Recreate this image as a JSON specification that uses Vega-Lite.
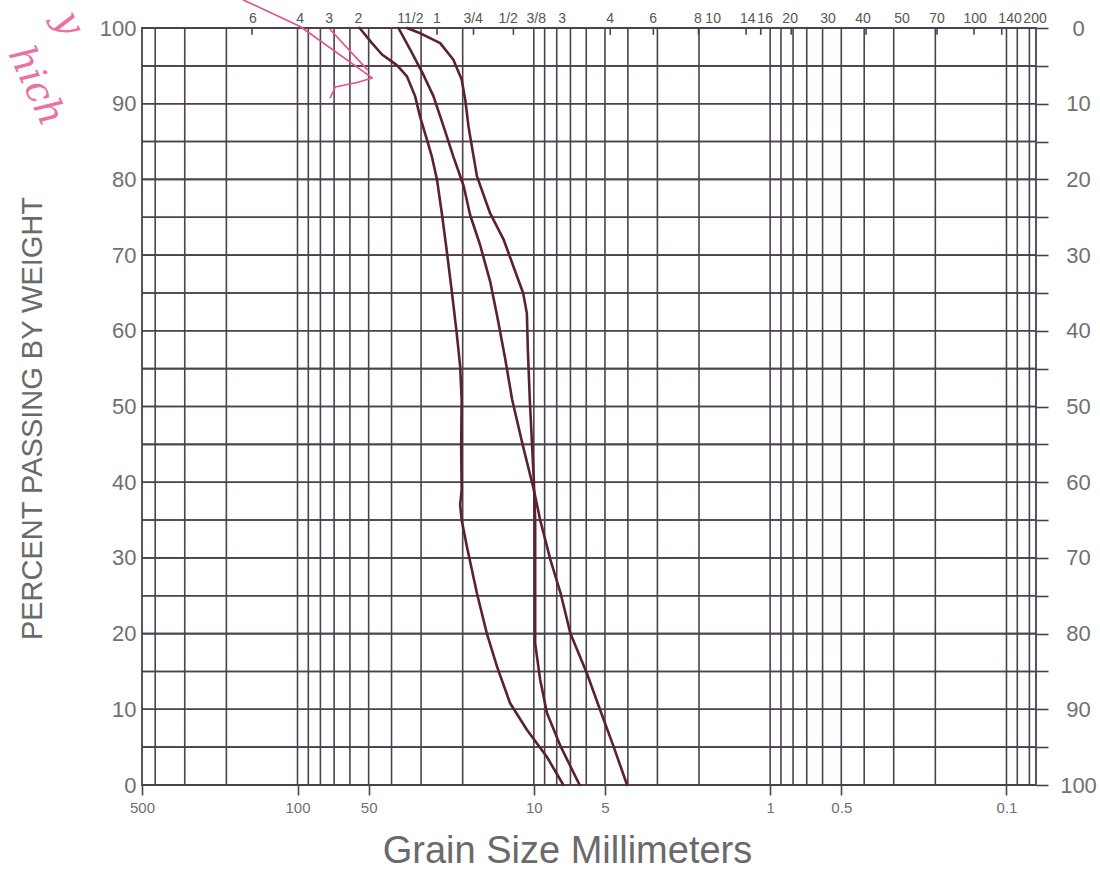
{
  "$schema": "https://vega.github.io/schema/vega-lite/v6.json",
  "width": 894,
  "height": 757,
  "autosize": {"type": "none"},
  "padding": {"left": 142, "top": 28, "right": 64, "bottom": 89},
  "background": "#ffffff",
  "config": {
    "view": {"stroke": "#4d4050", "strokeWidth": 1.8},
    "font": "Liberation Sans",
    "axis": {"domain": false, "grid": false, "labelFont": "Liberation Sans", "titleFont": "Liberation Sans", "titleFontWeight": "normal", "labelColor": "#707070", "titleColor": "#6a6a6a"}
  },
  "datasets": {
    "gx": [{"d":400},{"d":300},{"d":200},{"d":100},{"d":90},{"d":80},{"d":70},{"d":60},{"d":50},{"d":40},{"d":30},{"d":20},{"d":10},{"d":9},{"d":8},{"d":7},{"d":6},{"d":5},{"d":4},{"d":3},{"d":2},{"d":1},{"d":0.9},{"d":0.8},{"d":0.7},{"d":0.6},{"d":0.5},{"d":0.4},{"d":0.3},{"d":0.2},{"d":0.1},{"d":0.09},{"d":0.08}],
    "gy": [{"p":0},{"p":5},{"p":10},{"p":15},{"p":20},{"p":25},{"p":30},{"p":35},{"p":40},{"p":45},{"p":50},{"p":55},{"p":60},{"p":65},{"p":70},{"p":75},{"p":80},{"p":85},{"p":90},{"p":95},{"p":100}],
    "st": [{"d":155.8},{"d":25.7},{"d":18.0},{"d":12.2},{"d":4.75},{"d":3.12},{"d":2.01},{"d":1.264},{"d":1.096},{"d":0.815},{"d":0.3927},{"d":0.1967},{"d":0.1372},{"d":0.1047}],
    "sl": [
      {"d":154.3,"s":"6"},{"d":97.4,"s":"4"},{"d":73.4,"s":"3"},{"d":55.3,"s":"2"},{"d":33.3,"s":"11/2"},{"d":25.7,"s":"1"},{"d":18.06,"s":"3/4"},{"d":12.84,"s":"1/2"},{"d":9.77,"s":"3/8"},{"d":7.59,"s":"3"},{"d":4.75,"s":"4"},{"d":3.13,"s":"6"},{"d":2.02,"s":"8"},{"d":1.743,"s":"10"},{"d":1.245,"s":"14"},{"d":1.05,"s":"16"},{"d":0.823,"s":"20"},{"d":0.5685,"s":"30"},{"d":0.4044,"s":"40"},{"d":0.2765,"s":"50"},{"d":0.1967,"s":"70"},{"d":0.1358,"s":"100"},{"d":0.0966,"s":"140"},{"d":0.0757,"s":"200"}
    ],
    "curves": [
      {"c":"A","i":1,"d":54.6,"p":100},{"c":"A","i":2,"d":48.4,"p":98.0},{"c":"A","i":3,"d":43.9,"p":96.5},{"c":"A","i":4,"d":38.0,"p":95.1},{"c":"A","i":5,"d":34.4,"p":93.6},{"c":"A","i":6,"d":31.8,"p":91.0},{"c":"A","i":7,"d":30.3,"p":88.3},{"c":"A","i":8,"d":28.3,"p":85.2},{"c":"A","i":9,"d":27.0,"p":83.0},{"c":"A","i":10,"d":25.7,"p":80.0},{"c":"A","i":11,"d":24.5,"p":75.5},{"c":"A","i":12,"d":23.3,"p":70.3},{"c":"A","i":13,"d":22.2,"p":65.0},{"c":"A","i":14,"d":21.2,"p":59.7},{"c":"A","i":15,"d":20.5,"p":55.3},{"c":"A","i":16,"d":20.2,"p":50.9},{"c":"A","i":17,"d":20.3,"p":44.7},{"c":"A","i":18,"d":20.2,"p":39.0},{"c":"A","i":19,"d":20.5,"p":37.0},{"c":"A","i":20,"d":20.2,"p":35.0},{"c":"A","i":21,"d":19.2,"p":31.5},{"c":"A","i":22,"d":17.4,"p":25.3},{"c":"A","i":23,"d":15.8,"p":20.0},{"c":"A","i":24,"d":14.3,"p":15.6},{"c":"A","i":25,"d":12.6,"p":10.8},{"c":"A","i":26,"d":10.7,"p":7.3},{"c":"A","i":27,"d":8.8,"p":3.7},{"c":"A","i":28,"d":7.5,"p":0},
      {"c":"B","i":1,"d":37.4,"p":100},{"c":"B","i":2,"d":33.3,"p":97.1},{"c":"B","i":3,"d":29.3,"p":93.8},{"c":"B","i":4,"d":26.6,"p":91.0},{"c":"B","i":5,"d":24.1,"p":87.0},{"c":"B","i":6,"d":21.9,"p":83.0},{"c":"B","i":7,"d":19.8,"p":79.1},{"c":"B","i":8,"d":18.6,"p":75.3},{"c":"B","i":9,"d":16.9,"p":71.4},{"c":"B","i":10,"d":15.3,"p":66.5},{"c":"B","i":11,"d":14.2,"p":61.5},{"c":"B","i":12,"d":13.2,"p":56.2},{"c":"B","i":13,"d":12.35,"p":50.9},{"c":"B","i":14,"d":11.1,"p":44.7},{"c":"B","i":15,"d":10.0,"p":39.0},{"c":"B","i":16,"d":9.4,"p":35.0},{"c":"B","i":17,"d":8.5,"p":29.7},{"c":"B","i":18,"d":7.7,"p":25.3},{"c":"B","i":19,"d":7.0,"p":20.0},{"c":"B","i":20,"d":5.97,"p":14.8},{"c":"B","i":21,"d":5.24,"p":9.9},{"c":"B","i":22,"d":4.6,"p":5.1},{"c":"B","i":23,"d":4.03,"p":0},
      {"c":"C","i":1,"d":34.4,"p":100},{"c":"C","i":2,"d":30.2,"p":99.3},{"c":"C","i":3,"d":24.9,"p":98.0},{"c":"C","i":4,"d":21.9,"p":95.8},{"c":"C","i":5,"d":20.2,"p":93.2},{"c":"C","i":6,"d":19.5,"p":90.5},{"c":"C","i":7,"d":18.9,"p":87.0},{"c":"C","i":8,"d":18.3,"p":84.4},{"c":"C","i":9,"d":17.4,"p":80.4},{"c":"C","i":10,"d":15.3,"p":75.5},{"c":"C","i":11,"d":13.4,"p":72.0},{"c":"C","i":12,"d":12.2,"p":68.5},{"c":"C","i":13,"d":11.1,"p":65.0},{"c":"C","i":14,"d":10.7,"p":62.3},{"c":"C","i":15,"d":10.6,"p":57.5},{"c":"C","i":16,"d":10.4,"p":50.9},{"c":"C","i":17,"d":10.0,"p":40.3},{"c":"C","i":18,"d":9.87,"p":35.0},{"c":"C","i":19,"d":9.87,"p":27.1},{"c":"C","i":20,"d":9.87,"p":18.7},{"c":"C","i":21,"d":9.4,"p":13.9},{"c":"C","i":22,"d":8.8,"p":9.5},{"c":"C","i":23,"d":7.7,"p":5.1},{"c":"C","i":24,"d":6.4,"p":0}
    ],
    "pink": [
      {"c":"a","i":1,"d":169.6,"p":103.7},{"c":"a","i":2,"d":97.4,"p":100.2},{"c":"a","i":3,"d":48.3,"p":93.4},{"c":"a","i":4,"d":55.9,"p":92.8},{"c":"a","i":5,"d":69.2,"p":92.2},{"c":"a","i":6,"d":72.7,"p":90.8},
      {"c":"b","i":1,"d":72.7,"p":99.8},{"c":"b","i":2,"d":50.7,"p":94.5}
    ],
    "hand": [
      {"d":1286,"p":92.3,"t":"hich"},
      {"d":933,"p":100.6,"t":"y"}
    ]
  },
  "layer": [
    {
      "data": {"name": "gx"},
      "mark": {"type": "rule", "stroke": "#4d4050", "strokeWidth": 1.6},
      "encoding": {
        "x": {
          "field": "d", "type": "quantitative",
          "scale": {"type": "log", "domain": [0.075, 455], "reverse": true, "nice": false},
          "axis": {
            "orient": "bottom",
            "values": [455, 100, 50, 10, 5, 1, 0.5, 0.1],
            "labelExpr": "datum.value > 400 ? '500' : '' + datum.value",
            "tickSize": 10, "tickColor": "#4d4050", "tickWidth": 1.6,
            "labelPadding": 5, "labelFontSize": 15, "labelFlush": false, "labelOverlap": false,
            "title": "Grain Size Millimeters", "titleFontSize": 38,
            "titleX": 425, "titleY": 77, "titleAlign": "center", "titleBaseline": "alphabetic"
          }
        }
      }
    },
    {
      "data": {"name": "gy"},
      "mark": {"type": "rule", "stroke": "#4d4050", "strokeWidth": 1.6},
      "encoding": {
        "y": {
          "field": "p", "type": "quantitative",
          "scale": {"domain": [0, 100], "nice": false},
          "axis": {
            "orient": "left",
            "values": [0, 10, 20, 30, 40, 50, 60, 70, 80, 90, 100],
            "tickSize": 0, "labelPadding": 6, "labelFontSize": 22,
            "title": "PERCENT PASSING BY WEIGHT", "titleFontSize": 29,
            "titleX": -110, "titleY": 390, "titleAngle": 270, "titleAlign": "center", "titleBaseline": "middle"
          }
        }
      }
    },
    {
      "data": {"name": "gy"},
      "mark": {"type": "rule", "stroke": "#4d4050", "strokeWidth": 1.6},
      "encoding": {
        "y": {
          "field": "p", "type": "quantitative",
          "scale": {"domain": [0, 100], "nice": false},
          "axis": {
            "orient": "right",
            "values": [0, 5, 10, 15, 20, 25, 30, 35, 40, 45, 50, 55, 60, 65, 70, 75, 80, 85, 90, 95, 100],
            "labelExpr": "datum.value % 10 == 0 ? '' + (100 - datum.value) : ''",
            "tickSize": 12, "tickColor": "#4d4050", "tickWidth": 1.6,
            "labelAlign": "center", "labelPadding": 30, "labelFontSize": 22,
            "title": null
          }
        }
      }
    },
    {
      "data": {"name": "st"},
      "mark": {"type": "rule", "stroke": "#4d4050", "strokeWidth": 1.6},
      "encoding": {
        "x": {"field": "d", "type": "quantitative", "axis": null},
        "y": {"datum": 100, "type": "quantitative", "axis": null},
        "y2": {"datum": 99.1}
      }
    },
    {
      "data": {"name": "sl"},
      "mark": {"type": "text", "dy": -5, "baseline": "alphabetic", "align": "center", "fontSize": 14, "color": "#555555", "font": "Liberation Sans"},
      "encoding": {
        "x": {"field": "d", "type": "quantitative", "axis": null},
        "y": {"datum": 100, "type": "quantitative", "axis": null},
        "text": {"field": "s"}
      }
    },
    {
      "data": {"name": "curves"},
      "mark": {"type": "line", "stroke": "#5a2230", "strokeWidth": 2.6, "strokeJoin": "round", "strokeCap": "round"},
      "encoding": {
        "x": {"field": "d", "type": "quantitative", "axis": null},
        "y": {"field": "p", "type": "quantitative", "axis": null},
        "detail": {"field": "c"},
        "order": {"field": "i"}
      }
    },
    {
      "data": {"name": "pink"},
      "mark": {"type": "line", "stroke": "#e4508a", "strokeWidth": 1.6, "strokeJoin": "round", "strokeCap": "round"},
      "encoding": {
        "x": {"field": "d", "type": "quantitative", "axis": null},
        "y": {"field": "p", "type": "quantitative", "axis": null},
        "detail": {"field": "c"},
        "order": {"field": "i"}
      }
    },
    {
      "data": {"name": "hand"},
      "mark": {"type": "text", "angle": 65, "fontSize": 38, "fontStyle": "italic", "font": "DejaVu Serif", "color": "#e4508a", "opacity": 0.8, "align": "center", "baseline": "middle"},
      "encoding": {
        "x": {"field": "d", "type": "quantitative", "axis": null},
        "y": {"field": "p", "type": "quantitative", "axis": null},
        "text": {"field": "t"}
      }
    }
  ],
  "resolve": {"axis": {"x": "independent", "y": "independent"}}
}
